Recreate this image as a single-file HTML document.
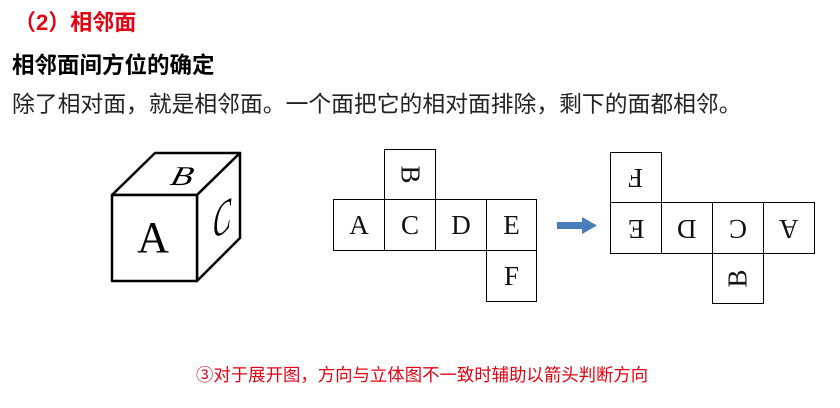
<!DOCTYPE html>
<html><head><meta charset="utf-8"><style>
body{margin:0;width:840px;height:408px;background:#fff;position:relative;overflow:hidden;font-family:"Liberation Sans","Noto Sans CJK SC",sans-serif}
.t{position:absolute;white-space:nowrap;line-height:1}
.box{position:absolute;border:1.5px solid #000;box-sizing:border-box;display:flex;align-items:center;justify-content:center;font-family:"Liberation Serif",serif;font-size:27px;color:#111}
</style></head><body>
<div class="t" style="left:14px;top:12px;font-size:22px;font-weight:bold;color:#e60012">（2）相邻面</div>
<div class="t" style="left:12px;top:55px;font-size:22.5px;font-weight:bold;color:#000">相邻面间方位的确定</div>
<div class="t" style="left:12px;top:93px;font-size:22.8px;color:#222">除了相对面，就是相邻面。一个面把它的相对面排除，剩下的面都相邻。</div>
<div class="t" style="left:196px;top:367px;font-size:17.4px;color:#e60012">③对于展开图，方向与立体图不一致时辅助以箭头判断方向</div>

<svg style="position:absolute;left:0;top:0" width="840" height="408">
<g stroke="#000" stroke-width="2.5" fill="#fff" stroke-linejoin="round">
<polygon points="112,195 155,153 240,153 197,195"/>
<polygon points="197,195 240,153 240,238 197,281"/>
<rect x="112" y="195" width="85" height="86"/>
</g>
<text x="153" y="252" font-family="Liberation Serif,serif" font-size="44" text-anchor="middle">A</text>
<text x="0" y="0" font-family="Liberation Serif,serif" font-size="34" font-style="italic" text-anchor="middle" transform="translate(180,185) skewX(-15) scale(1.05,0.8)">B</text>
<text x="0" y="0" font-family="Liberation Serif,serif" font-size="46" font-style="italic" text-anchor="middle" transform="translate(222,234) skewY(-35) scale(0.6,1)">C</text>
<rect x="557" y="222" width="26" height="7" fill="#4a7ebb"/>
<polygon points="582,217 597,225.5 582,234" fill="#4a7ebb"/>
</svg>

<div class="box" style="left:384px;top:149px;width:52px;height:51px"><span style="transform:rotate(90deg)">B</span></div>
<div class="box" style="left:333px;top:199px;width:52px;height:52px">A</div>
<div class="box" style="left:384px;top:199px;width:52px;height:52px">C</div>
<div class="box" style="left:435px;top:199px;width:52px;height:52px">D</div>
<div class="box" style="left:486px;top:199px;width:51px;height:52px">E</div>
<div class="box" style="left:486px;top:250px;width:51px;height:52px">F</div>

<div class="box" style="left:610px;top:152px;width:52px;height:51px"><span style="transform:rotate(180deg)">F</span></div>
<div class="box" style="left:610px;top:202px;width:52px;height:52px"><span style="transform:rotate(180deg)">E</span></div>
<div class="box" style="left:661px;top:202px;width:52px;height:52px"><span style="transform:rotate(180deg)">D</span></div>
<div class="box" style="left:712px;top:202px;width:52px;height:52px"><span style="transform:rotate(180deg)">C</span></div>
<div class="box" style="left:763px;top:202px;width:52px;height:52px"><span style="transform:rotate(180deg)">A</span></div>
<div class="box" style="left:712px;top:253px;width:52px;height:51px"><span style="transform:rotate(-90deg)">B</span></div>
</body></html>
